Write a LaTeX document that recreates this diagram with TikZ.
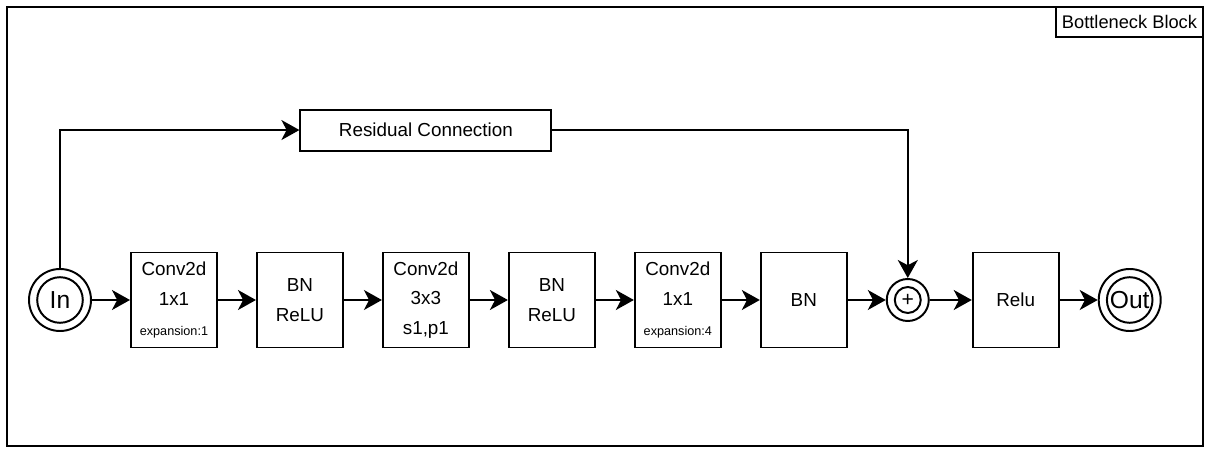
\documentclass[tikz,border=0pt]{standalone}
\usepackage{fontspec}
\setmainfont{Liberation Sans}
\usetikzlibrary{arrows.meta, positioning}

\begin{document}
\begin{tikzpicture}[
        node distance=0.95cm,
        every node/.style={line width=1.4pt},
        block/.style={rectangle, draw, minimum width=2.15cm, minimum height=2.375cm, inner sep=1pt, align=center, font=\fontsize{13.4}{21}\selectfont},
        termo/.style={circle, draw, minimum size=1.55cm, inner sep=0pt},
        termi/.style={circle, draw, minimum size=1.14cm, inner sep=0pt, font=\fontsize{17.5}{20}\selectfont},
        arr/.style={-{Stealth[length=0.45cm, width=0.5cm, inset=0.13cm]}, line width=1.4pt},
    ]
        \useasboundingbox (0,0) rectangle (30.25,-11.325);

        % Outer frame and title
        \node[draw, anchor=north west, minimum width=29.9cm, minimum height=10.975cm] (frame) at (0.15,-0.15) {};
        \node[draw, anchor=north east, minimum width=3.675cm, minimum height=0.75cm, inner sep=1pt, font=\fontsize{13}{15}\selectfont] (title) at (frame.north east) {Bottleneck Block};

        % Main row
        \node[termo] (in) at (1.5,-7.5) {};
        \node[termi] (in-i) at (in) {In};
        \node[block, right=of in] (conv1) {Conv2d\\1x1\\{\fontsize{9}{21}\selectfont expansion:1}};
        \node[block, right=of conv1] (bn1) {BN\\ReLU};
        \node[block, right=of bn1] (conv2) {Conv2d\\3x3\\s1,p1};
        \node[block, right=of conv2] (bn2) {BN\\ReLU};
        \node[block, right=of bn2] (conv3) {Conv2d\\1x1\\{\fontsize{9}{21}\selectfont expansion:4}};
        \node[block, right=of conv3] (bn3) {BN};
        \node[circle, draw, minimum size=1.05cm, inner sep=0pt, right=of bn3] (plus) {};
        \node[circle, draw, minimum size=0.65cm, inner sep=0pt, font=\fontsize{15}{17}\selectfont] (plus-i) at (plus) {+};
        \node[block, right=1.05cm of plus] (relu) {Relu};
        \node[termo, right=of relu] (out) {};
        \node[termi] (out-i) at (out) {Out};

        % Skip path
        \node[block, minimum width=6.275cm, minimum height=1.025cm, above=2.5cm of conv2] (res) {Residual Connection};

        % Arrows
        \draw[arr] (in) -- (conv1);
        \draw[arr] (conv1) -- (bn1);
        \draw[arr] (bn1) -- (conv2);
        \draw[arr] (conv2) -- (bn2);
        \draw[arr] (bn2) -- (conv3);
        \draw[arr] (conv3) -- (bn3);
        \draw[arr] (bn3) -- (plus);
        \draw[arr] (plus) -- (relu);
        \draw[arr] (relu) -- (out);

        % Residual connection
        \draw[arr] (in.north) |- (res.west);
        \draw[arr] (res.east) -| (plus.north);
    \end{tikzpicture}
\end{document}
